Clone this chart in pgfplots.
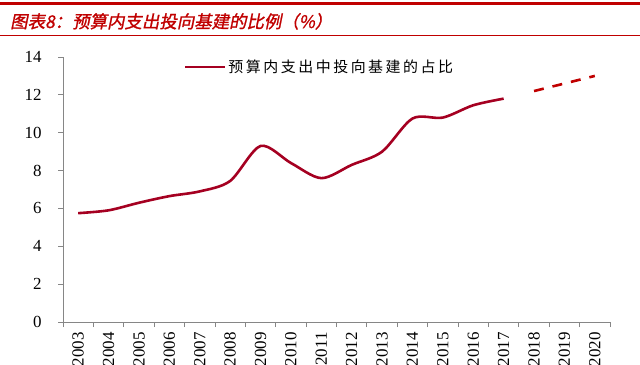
\documentclass[border=0pt]{standalone}
\usepackage{pgfplots}
\pgfplotsset{compat=1.18}
\usepackage{fontspec}
\setmainfont{Liberation Serif}
\newfontfamily\cjk{Noto Sans CJK SC}
\newfontfamily\cjktitle[FakeSlant=0.2, FakeBold=1.2]{Noto Sans CJK SC}
\definecolor{titlered}{RGB}{192,0,0}
\definecolor{linered}{RGB}{165,0,33}
\definecolor{dashred}{RGB}{192,0,0}
\definecolor{axisgray}{RGB}{134,134,134}
\begin{document}
\begin{tikzpicture}
\useasboundingbox (0bp,0bp) rectangle (640bp,365bp);
\fill[titlered] (0bp,360bp) rectangle (640bp,362.5bp);
\draw[titlered, line width=0.8bp] (0bp,330bp) -- (640bp,330bp);
\node[anchor=base west, inner sep=0pt, text=titlered, font=\cjktitle\fontsize{17.5}{17.5}\selectfont] at (10bp,337bp) {图表8：预算内支出投向基建的比例（\%）};
\begin{axis}[
  at={(63bp,43bp)}, anchor=south west, scale only axis,
  width=547bp, height=265bp,
  xmin=2002.5, xmax=2020.5, ymin=0, ymax=14,
  axis x line*=bottom, axis y line*=left,
  axis line style={axisgray, line width=0.8bp},
  tick style={axisgray, line width=0.8bp},
  tick align=outside, major tick length=5bp,
  ytick={0,2,...,14},
  xtick={2002.5,2003.5,...,2020.5},
  xticklabels={},
  extra x ticks={2003,...,2020},
  extra x tick style={major tick length=0pt, tick label style={rotate=90, anchor=east, xshift=-7bp}},
  extra x tick labels={2003,2004,2005,2006,2007,2008,2009,2010,2011,2012,2013,2014,2015,2016,2017,2018,2019,2020},
  ticklabel style={font=\fontsize{17}{17}\selectfont, text=black},
  yticklabel style={xshift=-13bp},
  /pgf/number format/assume math mode=true,
  /pgf/number format/1000 sep={},
  legend style={at={(0.215,0.962)}, anchor=west, draw=none, fill=none,
    font=\cjk\addfontfeature{LetterSpace=17}\fontsize{15}{16}\selectfont},
  legend cell align=left,
  legend image code/.code={\draw[#1] (0bp,0bp) -- (40bp,0bp);},
  clip=false,
]
\addplot[linered, line width=2.6bp, smooth] coordinates {
(2003,5.75) (2004,5.9) (2005,6.3) (2006,6.65) (2007,6.9) (2008,7.45)
(2009,9.3) (2010,8.4) (2011,7.6) (2012,8.3) (2013,9.0) (2014,10.75)
(2015,10.8) (2016,11.45) (2017,11.8)};
\addlegendentry{预算内支出中投向基建的占比}
\addplot[dashred, line width=2.6bp, dash pattern=on 10bp off 9bp, forget plot] coordinates {
(2018,12.2) (2019,12.6) (2020,13.0)};
\end{axis}
\end{tikzpicture}
\end{document}
